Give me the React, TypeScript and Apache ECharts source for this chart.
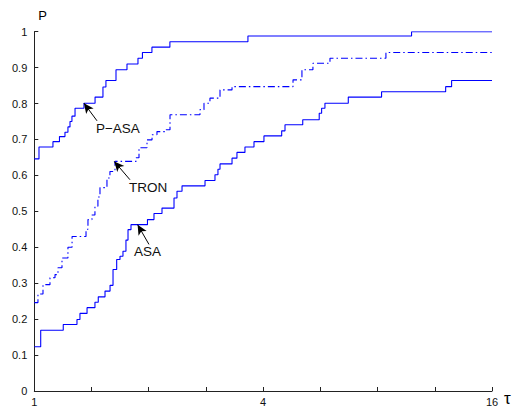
import React, { useEffect, useRef } from 'react';
import * as echarts from 'echarts';

// x values are log2(tau) (tau from 1 to 16)
const xLabelValues = [0, 2, 4]; // tau = 1, 4, 16
const yTicks = [0, 0.1, 0.2, 0.3, 0.4, 0.5, 0.6, 0.7, 0.8, 0.9, 1];

const pasaLog2Tau = [0, 0.041, 0.163, 0.22, 0.268, 0.294, 0.312, 0.329, 0.356, 0.434, 0.531, 0.6, 0.626, 0.714, 0.81, 0.906, 0.945, 1.028, 1.185, 1.867, 3.297, 4.0];
const pasaP = [0.646, 0.679, 0.694, 0.708, 0.72, 0.735, 0.75, 0.765, 0.787, 0.801, 0.818, 0.846, 0.864, 0.894, 0.91, 0.926, 0.942, 0.957, 0.972, 0.988, 1.0, 1.0];

const tronLog2Tau = [0, 0.032, 0.076, 0.137, 0.181, 0.207, 0.242, 0.294, 0.33, 0.452, 0.469, 0.504, 0.53, 0.556, 0.574, 0.635, 0.661, 0.705, 0.889, 0.915, 0.985, 1.029, 1.072, 1.151, 1.186, 1.448, 1.483, 1.535, 1.623, 1.728, 2.261, 2.339, 2.435, 2.584, 3.073, 4.0];
const tronP = [0.246, 0.27, 0.296, 0.315, 0.324, 0.343, 0.37, 0.4, 0.43, 0.45, 0.477, 0.49, 0.514, 0.54, 0.566, 0.593, 0.611, 0.639, 0.649, 0.677, 0.699, 0.713, 0.722, 0.727, 0.769, 0.783, 0.801, 0.815, 0.838, 0.847, 0.866, 0.894, 0.912, 0.926, 0.942, 0.942];

const asaLog2Tau = [0, 0.056, 0.253, 0.373, 0.399, 0.461, 0.53, 0.559, 0.618, 0.662, 0.688, 0.72, 0.749, 0.775, 0.801, 0.819, 0.845, 0.989, 1.046, 1.116, 1.221, 1.247, 1.291, 1.492, 1.579, 1.605, 1.623, 1.728, 1.771, 1.841, 1.92, 2.007, 2.162, 2.191, 2.346, 2.49, 2.511, 2.54, 2.744, 3.035, 3.595, 3.647, 4.0];
const asaP = [0.123, 0.169, 0.185, 0.199, 0.216, 0.232, 0.247, 0.262, 0.278, 0.294, 0.338, 0.366, 0.375, 0.389, 0.42, 0.449, 0.463, 0.477, 0.494, 0.509, 0.537, 0.556, 0.571, 0.586, 0.602, 0.617, 0.632, 0.648, 0.664, 0.679, 0.694, 0.71, 0.724, 0.741, 0.755, 0.773, 0.787, 0.801, 0.818, 0.833, 0.847, 0.864, 0.864];

// annotation labels: [name, text anchor, arrow tail, arrow tip] in (log2 tau, P)
const annoNames = ['P\u2212ASA', 'TRON', 'ASA'];
const annoTextAt = [[0.539, 0.73], [0.828, 0.566], [0.872, 0.388]];
const annoTail = [[0.548, 0.752], [0.836, 0.588], [1.002, 0.408]];
const annoTip = [[0.434, 0.801], [0.699, 0.639], [0.903, 0.463]];

const FONT = '"Liberation Sans", Arial, Helvetica, sans-serif';
const BLUE = '#0000ff';

function zip(xs: number[], ys: number[]) {
  return xs.map((x, i) => [x, ys[i]]);
}

export default function App() {
  const ref = useRef<HTMLDivElement>(null);
  useEffect(() => {
    document.body.style.margin = '0';
    if (!ref.current) return;
    const chart = echarts.init(ref.current, undefined, { renderer: 'svg' });
    const arrow = (i: number) => ({
      silent: true,
      symbol: ['none', 'arrow'],
      symbolSize: [7, 10],
      label: { show: false },
      lineStyle: { color: '#000', type: 'solid', width: 1 },
      data: [[{ coord: annoTail[i] }, { coord: annoTip[i] }]],
    });
    const lineSeries = (name: string, xs: number[], ys: number[], type: any, idx: number) => ({
      name,
      type: 'line',
      step: 'end',
      showSymbol: false,
      data: zip(xs, ys),
      lineStyle: { color: BLUE, width: 1.1, type },
      itemStyle: { color: BLUE },
      markLine: arrow(idx),
      z: 2,
    });
    chart.setOption({
      animation: false,
      backgroundColor: '#fff',
      textStyle: { fontFamily: FONT },
      grid: { left: 34.3, right: 22, top: 31.7, bottom: 15.3, containLabel: false },
      xAxis: {
        type: 'value',
        min: 0,
        max: 4,
        interval: 0.5,
        axisLine: { lineStyle: { color: '#222', width: 1 } },
        axisTick: { inside: true, length: 4, lineStyle: { color: '#222' } },
        axisLabel: {
          color: '#111',
          fontSize: 11,
          margin: 5,
          fontFamily: FONT,
          formatter: (v: number) => (xLabelValues.some((x) => Math.abs(x - v) < 1e-9) ? String(Math.round(Math.pow(2, v))) : ''),
          showMinLabel: true,
          showMaxLabel: true,
        },
        splitLine: { show: false },
      },
      yAxis: {
        type: 'value',
        min: 0,
        max: 1,
        interval: 0.1,
        name: 'P',
        nameLocation: 'end',
        nameGap: 10,
        nameTextStyle: { fontSize: 13, color: '#000', fontFamily: FONT, align: 'left', padding: [0, 0, 0, 4] },
        axisLine: { show: true, lineStyle: { color: '#222', width: 1 } },
        axisTick: { show: true, inside: true, length: 4, lineStyle: { color: '#222' } },
        axisLabel: {
          color: '#111',
          fontSize: 11,
          margin: 7,
          fontFamily: FONT,
          formatter: (v: number) => {
            const t = yTicks.find((y) => Math.abs(y - v) < 1e-9);
            return t === undefined ? '' : String(t);
          },
        },
        splitLine: { show: false },
      },
      series: [
        lineSeries('P-ASA', pasaLog2Tau, pasaP, 'solid', 0),
        lineSeries('TRON', tronLog2Tau, tronP, [7, 3, 1.5, 3], 1),
        lineSeries('ASA', asaLog2Tau, asaP, 'solid', 2),
      ],
    });
    const graphic: any[] = annoNames.map((name, i) => {
      const p = chart.convertToPixel({ gridIndex: 0 }, annoTextAt[i]) as number[];
      return {
        type: 'text',
        x: p[0],
        y: p[1],
        silent: true,
        style: {
          text: name,
          fill: '#111',
          font: `13.5px ${FONT}`,
          textAlign: 'left',
          textVerticalAlign: 'middle',
        },
      };
    });
    const corner = chart.convertToPixel({ gridIndex: 0 }, [4, 0]) as number[];
    graphic.push({
      type: 'text',
      x: corner[0] + 12,
      y: corner[1] + 7,
      silent: true,
      style: {
        text: '\u03c4',
        fill: '#000',
        font: `17px ${FONT}`,
        textAlign: 'left',
        textVerticalAlign: 'middle',
      },
    });
    chart.setOption({ graphic });
    return () => chart.dispose();
  }, []);
  return <div ref={ref} style={{ width: 514, height: 407 }} />;
}
